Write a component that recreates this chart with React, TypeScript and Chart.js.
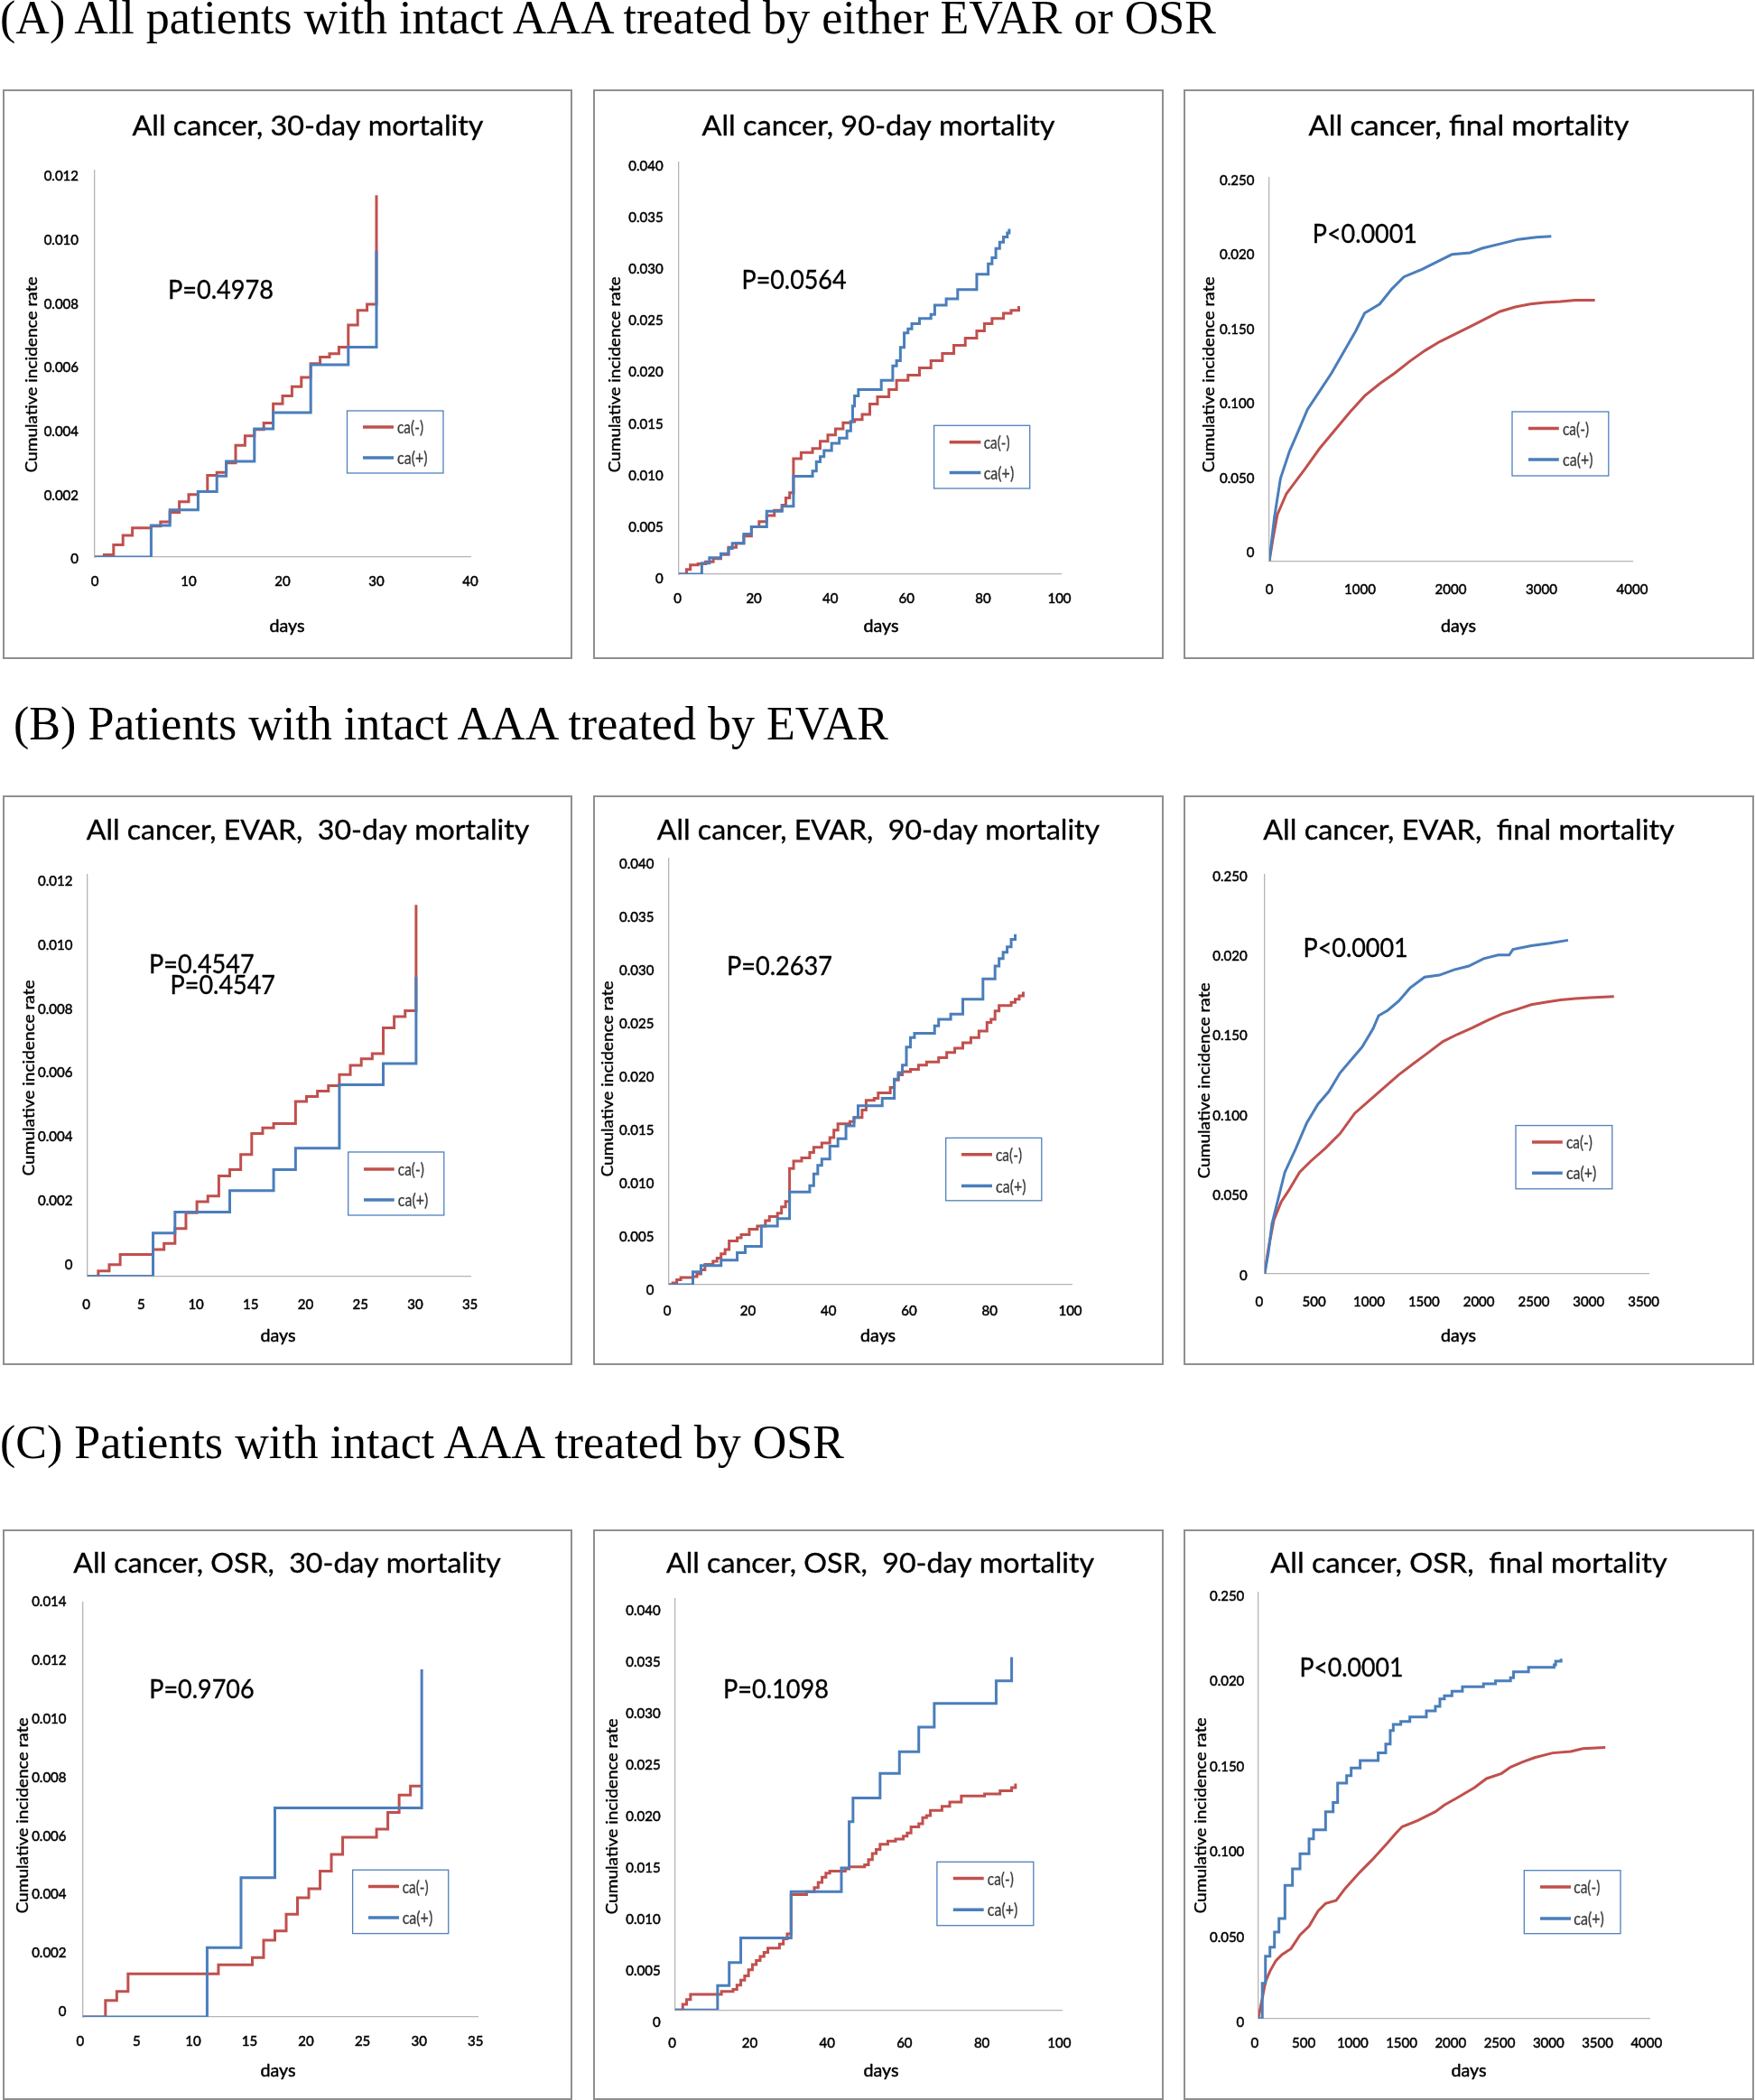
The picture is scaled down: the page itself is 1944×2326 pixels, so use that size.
import React, { useEffect, useLayoutEffect, useRef } from 'react';
import { Chart, registerables } from 'chart.js';

Chart.register(...registerables);
Chart.defaults.font.family = 'Lato';

// ---------------- DATA ----------------
// (A) all patients, 30-day
const all30NegDays = [0,1,2,3,4,6,7,8,9,10,11,12,13,14,15,16,17,18,19,20,21,22,23,24,25,26,27,28,29,30];
const all30NegRate = [0,0.00007,0.00038,0.00068,0.00091,0.00097,0.0011,0.0014,0.00173,0.00196,0.00205,0.00256,0.00265,0.00295,0.0035,0.0038,0.004,0.0042,0.0048,0.00505,0.00534,0.00563,0.00606,0.00627,0.00637,0.00658,0.00727,0.00773,0.00792,0.01134];
const all30PosDays = [0,6,8,11,13,14,17,19,23,27,30];
const all30PosRate = [0,0.00099,0.00148,0.00205,0.00254,0.003,0.00402,0.00453,0.00603,0.00658,0.00959];
// (A) all patients, 90-day
const all90NegDays = [0,2,3,5,7,9,11,13,15,17,19,21,23,25,27,28,29,30,32,35,37,39,41,43,45,46,48,50,52,55,57,60,63,66,69,72,75,78,80,82,85,87,89];
const all90NegRate = [0,0.00046,0.0009,0.001,0.0012,0.0015,0.0019,0.0026,0.003,0.0037,0.0046,0.0051,0.0057,0.0062,0.0067,0.0074,0.0079,0.0112,0.0118,0.0122,0.0129,0.0135,0.0141,0.0147,0.0148,0.015,0.0155,0.0165,0.0172,0.0179,0.0188,0.0193,0.02,0.0207,0.0214,0.0222,0.0229,0.0236,0.0243,0.0248,0.0253,0.0256,0.026];
const all90PosDays = [0,6,8,11,13,14,17,19,23,27,30,35,36,37,38,40,42,44,45,45.5,46,47,53,56,57,58,59,60,61,63,66,67,70,73,78,81,82,83,84,85,86,86.5];
const all90PosRate = [0,0.00107,0.0016,0.002,0.0025,0.003,0.0039,0.0046,0.0061,0.0066,0.0095,0.01,0.0109,0.0114,0.012,0.0127,0.0132,0.0139,0.0148,0.0163,0.0173,0.0179,0.0188,0.0202,0.0207,0.022,0.0234,0.0238,0.0243,0.0248,0.0252,0.0261,0.0267,0.0276,0.0291,0.0301,0.0307,0.0316,0.0322,0.0327,0.0331,0.0335];
// (A) all patients, final
const allFinNegDays = [0,40,89,189,289,388,554,720,886,1052,1217,1383,1549,1715,1881,2046,2212,2378,2544,2710,2876,3042,3207,3373,3589];
const allFinNegRate = [0,0.015,0.0312,0.0453,0.0534,0.0615,0.0756,0.0877,0.0999,0.111,0.1191,0.1262,0.1342,0.1413,0.1474,0.1524,0.1574,0.1625,0.1676,0.1706,0.1726,0.1736,0.1742,0.1752,0.1752];
const allFinPosDays = [0,56,123,222,322,421,554,686,819,952,1051,1217,1350,1483,1682,1881,2013,2212,2345,2544,2743,2942,3108];
const allFinPosRate = [0,0.0292,0.0554,0.0736,0.0877,0.1019,0.114,0.1262,0.1403,0.1544,0.1665,0.1726,0.1827,0.1908,0.1959,0.2019,0.2059,0.207,0.21,0.213,0.216,0.2174,0.218];
// (B) EVAR, 30-day
const evar30NegDays = [0,1,2,3,6,7,8,9,10,11,12,13,14,15,16,17,19,20,21,22,23,24,25,26,27,28,29,30];
const evar30NegRate = [0,0.00016,0.00036,0.00068,0.00083,0.00102,0.00149,0.00198,0.00233,0.0025,0.00313,0.00333,0.0038,0.00446,0.00463,0.00477,0.00546,0.00561,0.00578,0.00595,0.0063,0.00659,0.00679,0.00695,0.00776,0.00811,0.00829,0.0116];
const evar30PosDays = [0,6,8,13,17,19,23,27,30];
const evar30PosRate = [0,0.00135,0.002,0.00267,0.00333,0.004,0.00598,0.00664,0.00935];
// (B) EVAR, 90-day
const evar90NegDays = [0,1,2,3,6,7,8,9,11,12,13,14,15,17,18,20,22,24,25,27,28,29,30,31,33,35,36,38,40,41,42,45,46,48,49,51,52,55,56,57,58,60,62,64,67,69,71,73,75,77,79,80,81,82,85,86,87,88];
const evar90NegRate = [0,0.00017,0.00045,0.00066,0.00076,0.001,0.0014,0.0019,0.0022,0.0025,0.0029,0.0033,0.0041,0.0044,0.0047,0.0052,0.0055,0.006,0.0064,0.0067,0.0073,0.0078,0.0109,0.0116,0.0119,0.0124,0.0129,0.0133,0.0138,0.0145,0.0151,0.0153,0.0157,0.0164,0.0173,0.0175,0.018,0.0185,0.0192,0.0197,0.02,0.0202,0.0206,0.0209,0.0213,0.0218,0.0222,0.0227,0.0232,0.0238,0.0246,0.0249,0.0257,0.0262,0.0265,0.0268,0.0271,0.0275];
const evar90PosDays = [0,6,8,13,17,19,23,27,30,35,36,37,38,40,42,44,46,47,53,56,57,58,59,60,61,66,67,70,73,78,81,82,83,84,85,86];
const evar90PosRate = [0,0.0012,0.0018,0.0023,0.003,0.0036,0.0055,0.0062,0.0087,0.0093,0.0104,0.0112,0.0118,0.013,0.0137,0.0149,0.0157,0.0168,0.0175,0.0193,0.0199,0.0206,0.0223,0.0232,0.0236,0.0243,0.0249,0.0254,0.0268,0.0287,0.0299,0.0306,0.0312,0.0317,0.0324,0.0329];
// (B) EVAR, final
const evarFinNegDays = [0,33,84,151,218,318,419,553,687,820,954,1088,1222,1356,1490,1624,1758,1892,2026,2160,2294,2428,2562,2696,2830,2964,3181];
const evarFinNegRate = [0,0.015,0.0335,0.045,0.0519,0.0635,0.0704,0.0785,0.0877,0.1004,0.1085,0.1166,0.1246,0.1316,0.1385,0.1454,0.15,0.154,0.1586,0.1627,0.1655,0.1685,0.1701,0.1715,0.1724,0.1729,0.1736];
const evarFinPosDays = [0,33,67,117,184,285,385,486,586,687,787,887,988,1038,1122,1222,1323,1457,1591,1725,1859,1993,2127,2227,2261,2428,2595,2763];
const evarFinPosRate = [0,0.0127,0.0312,0.045,0.0635,0.0785,0.0946,0.1062,0.1142,0.1258,0.1339,0.1419,0.1535,0.1616,0.165,0.1708,0.1789,0.1858,0.187,0.1904,0.1927,0.1973,0.1996,0.1996,0.2031,0.2054,0.207,0.2089];
// (C) OSR, 30-day
const osr30NegDays = [0,2,3,4,12,15,16,17,18,19,20,21,22,23,26,27,28,29,30];
const osr30NegRate = [0,0.00056,0.00087,0.00147,0.00178,0.00203,0.00262,0.00294,0.00351,0.00407,0.00438,0.00498,0.00555,0.00614,0.00642,0.00699,0.00758,0.00789,0.00789];
const osr30PosDays = [0,11,14,17,30];
const osr30PosRate = [0,0.00237,0.00476,0.00714,0.01188];
// (C) OSR, 90-day
const osr90NegDays = [0,2,3,4,12,15,16,17,18,19,20,21,22,23,24,27,28,29,30,34,36,37,38,39,40,44,45,49,50,51,52,53,55,57,59,60,61,63,64,65,66,69,71,74,80,84,87,88];
const osr90NegRate = [0,0.00054,0.001,0.0015,0.0018,0.002,0.0024,0.0029,0.0033,0.0039,0.0044,0.0048,0.0052,0.0056,0.006,0.0064,0.0069,0.0074,0.0112,0.0115,0.0119,0.0124,0.0129,0.0133,0.0135,0.0137,0.0139,0.0141,0.0146,0.0152,0.0156,0.0161,0.0164,0.0166,0.0169,0.0172,0.0178,0.0181,0.0187,0.0189,0.0194,0.0198,0.0202,0.0208,0.021,0.0213,0.0216,0.022];
const osr90PosDays = [0,11,14,17,30,43,45,46,53,58,63,67,83,87];
const osr90PosRate = [0,0.00236,0.0046,0.007,0.0115,0.0138,0.0183,0.0206,0.023,0.0251,0.0275,0.0298,0.032,0.0343];
// (C) OSR, final
const osrFinNegDays = [0,41,73,119,180,242,334,426,518,610,687,795,887,1040,1163,1317,1409,1470,1624,1808,1900,2023,2207,2330,2483,2575,2698,2821,3005,3190,3313,3543];
const osrFinNegRate = [0,0.0118,0.0215,0.0277,0.0339,0.0374,0.0409,0.0489,0.0541,0.063,0.0674,0.0692,0.0762,0.0859,0.093,0.1027,0.1088,0.1124,0.1159,0.1212,0.1251,0.1291,0.1353,0.1406,0.1436,0.1473,0.1503,0.1529,0.1556,0.1565,0.1582,0.1588];
const osrFinPosDays = [0,41,73,119,165,211,272,349,426,518,564,687,764,810,902,948,1040,1224,1301,1347,1378,1455,1547,1716,1808,1854,1900,1977,2084,2299,2422,2575,2606,2759,3020,3036,3091];
const osrFinPosRate = [0,0.0206,0.0365,0.0418,0.0506,0.0586,0.078,0.0877,0.0965,0.1053,0.1106,0.1212,0.1265,0.1379,0.1423,0.1468,0.1512,0.1556,0.1608,0.1688,0.1723,0.1741,0.1767,0.1803,0.1829,0.1873,0.1891,0.1918,0.1944,0.1961,0.1979,0.1997,0.2032,0.2058,0.2072,0.2094,0.2108];

// tick labels
const y30Labels = ['0', '0.002', '0.004', '0.006', '0.008', '0.010', '0.012'];
const y30OsrLabels = ['0', '0.002', '0.004', '0.006', '0.008', '0.010', '0.012', '0.014'];
const y90Labels = ['0', '0.005', '0.010', '0.015', '0.020', '0.025', '0.030', '0.035', '0.040'];
const yFinLabels = ['0', '0.050', '0.100', '0.150', '0.020', '0.250'];
const x40Labels = ['0', '10', '20', '30', '40'];
const x35Labels = ['0', '5', '10', '15', '20', '25', '30', '35'];
const x100Labels = ['0', '20', '40', '60', '80', '100'];
const x4000Labels = ['0', '1000', '2000', '3000', '4000'];
const x3500Labels = ['0', '500', '1000', '1500', '2000', '2500', '3000', '3500'];
const x4000bLabels = ['0', '500', '1000', '1500', '2000', '2500', '3000', '3500', '4000'];

const seriesNames = ['ca(-)', 'ca(+)'];
const Y_TITLE = 'Cumulative incidence rate';
const X_TITLE = 'days';

const headings = [
  { text: '(A) All patients with intact AAA treated by either EVAR or OSR', x: 0, base: 37, w: 1347 },
  { text: '(B) Patients with intact AAA treated by EVAR', x: 15, base: 819, w: 969 },
  { text: '(C) Patients with intact AAA treated by OSR', x: 0, base: 1615, w: 935 },
];

// ---------------- STYLE ----------------
const RED = '#C0504D';
const BLUE = '#4A7EBB';
const AXIS = '#b5b5b5';

const pts = (xs: number[], ys: number[]) =>
  xs.slice(0, Math.min(xs.length, ys.length)).map((x, i) => ({ x, y: ys[i] }));

const PANELS: any[] = [
  { left: 3, top: 99, w: 631, h: 631, title: 'All cancer, 30-day mortality', tcx: 338, tb: 51, tw: 389,
    ps: [{ t: 'P=0.4978', x: 183, b: 232, w: 117 }],
    lg: { x1: 381.5, y1: 356, x2: 488, y2: 425, ry: 374, by: 408, lx1: 399, lx2: 433, tx: 437 },
    L: 102, R: 518, T: 90, B: 518, xmax: 40, xstep: 10, xl: x40Labels, ymax: 0.01211, ystep: 0.002, yl: y30Labels,
    yOff: 2.5, xOff: 0, yPad: 18, xPad: 18, ytx: 32, yty: 316, dx: 315, db: 601,
    neg: pts(all30NegDays, all30NegRate), pos: pts(all30PosDays, all30PosRate), negStep: true, posStep: true },
  { left: 657, top: 99, w: 632, h: 631, title: 'All cancer, 90-day mortality', tcx: 316, tb: 51, tw: 391,
    ps: [{ t: 'P=0.0564', x: 164.5, b: 220.5, w: 116 }],
    lg: { x1: 377.6, y1: 372.3, x2: 483.7, y2: 442, ry: 390.7, by: 424.6, lx1: 394.7, lx2: 429.4, tx: 432.7 },
    L: 95, R: 518, T: 80.2, B: 537, xmax: 100, xstep: 20, xl: x100Labels, ymax: 0.04, ystep: 0.005, yl: y90Labels,
    yOff: 5, xOff: -1.5, yPad: 17.4, xPad: 18, ytx: 24.5, yty: 316, dx: 319, db: 601,
    neg: pts(all90NegDays, all90NegRate), pos: pts(all90PosDays, all90PosRate), negStep: true, posStep: true },
  { left: 1311, top: 99, w: 632, h: 631, title: 'All cancer, final mortality', tcx: 316, tb: 51, tw: 355,
    ps: [{ t: 'P<0.0001', x: 142.7, b: 169.5, w: 116.3 }],
    lg: { x1: 364, y1: 357, x2: 470.8, y2: 428, ry: 375.6, by: 410, lx1: 382, lx2: 415.8, tx: 420 },
    L: 95, R: 497, T: 98, B: 522.5, xmax: 4000, xstep: 1000, xl: x4000Labels, ymax: 0.2573, ystep: 0.05, yl: yFinLabels,
    yOff: -9, xOff: 0, yPad: 16.6, xPad: 23, ytx: 27.8, yty: 316, dx: 304.5, db: 601,
    neg: pts(allFinNegDays, allFinNegRate), pos: pts(allFinPosDays, allFinPosRate), negStep: false, posStep: false },
  { left: 3, top: 881, w: 631, h: 631, title: 'All cancer, EVAR,  30-day mortality', tcx: 338, tb: 49, tw: 490.5,
    ps: [{ t: 'P=0.4547', x: 162, b: 197, w: 116.6 }, { t: 'P=0.4547', x: 185.6, b: 220, w: 116.4 }],
    lg: { x1: 382.7, y1: 395, x2: 488.8, y2: 465, ry: 414, by: 448, lx1: 400, lx2: 433.7, tx: 437.8 },
    L: 93.7, R: 518.6, T: 87.6, B: 532.5, xmax: 35, xstep: 5, xl: x35Labels, ymax: 0.01255, ystep: 0.002, yl: y30Labels,
    yOff: -12.2, xOff: -1, yPad: 16.3, xPad: 22.8, ytx: 29.6, yty: 313, dx: 305, db: 605,
    neg: pts(evar30NegDays, evar30NegRate), pos: pts(evar30PosDays, evar30PosRate), negStep: true, posStep: true },
  { left: 657, top: 881, w: 632, h: 631, title: 'All cancer, EVAR,  90-day mortality', tcx: 316, tb: 49, tw: 490.3,
    ps: [{ t: 'P=0.2637', x: 148, b: 199, w: 117 }],
    lg: { x1: 390.7, y1: 379.4, x2: 496.8, y2: 448.8, ry: 397.8, by: 432.5, lx1: 408, lx2: 442, tx: 446 },
    L: 83.7, R: 530, T: 69.9, B: 541.9, xmax: 100, xstep: 20, xl: x100Labels, ymax: 0.04, ystep: 0.005, yl: y90Labels,
    yOff: 6, xOff: -1.5, yPad: 16.3, xPad: 20, ytx: 16.4, yty: 314, dx: 315.6, db: 605,
    neg: pts(evar90NegDays, evar90NegRate), pos: pts(evar90PosDays, evar90PosRate), negStep: true, posStep: true },
  { left: 1311, top: 881, w: 632, h: 631, title: 'All cancer, EVAR,  final mortality', tcx: 316, tb: 49, tw: 455.5,
    ps: [{ t: 'P<0.0001', x: 132.5, b: 178.6, w: 116.2 }],
    lg: { x1: 368, y1: 365.6, x2: 474.8, y2: 435.8, ry: 383.9, by: 418.2, lx1: 386, lx2: 419.8, tx: 423.9 },
    L: 89.8, R: 515.6, T: 87.7, B: 529.7, xmax: 3500, xstep: 500, xl: x3500Labels, ymax: 0.25, ystep: 0.05, yl: yFinLabels,
    yOff: 2, xOff: -6, yPad: 19.2, xPad: 22.8, ytx: 23.3, yty: 316, dx: 304.5, db: 605,
    neg: pts(evarFinNegDays, evarFinNegRate), pos: pts(evarFinPosDays, evarFinPosRate), negStep: false, posStep: false },
  { left: 3, top: 1694, w: 631, h: 632, title: 'All cancer, OSR,  30-day mortality', tcx: 315, tb: 47.7, tw: 473.4,
    ps: [{ t: 'P=0.9706', x: 162.3, b: 187.2, w: 116.3 }],
    lg: { x1: 387.6, y1: 377.2, x2: 493.7, y2: 447.6, ry: 395.6, by: 430.1, lx1: 405, lx2: 439, tx: 442.7 },
    L: 88.8, R: 526.7, T: 80.7, B: 540, xmax: 35, xstep: 5, xl: x35Labels, ymax: 0.01417, ystep: 0.002, yl: y30OsrLabels,
    yOff: -5.7, xOff: -3, yPad: 18.3, xPad: 17.8, ytx: 22.2, yty: 317, dx: 305, db: 605.5,
    neg: pts(osr30NegDays, osr30NegRate), pos: pts(osr30PosDays, osr30PosRate), negStep: true, posStep: true },
  { left: 657, top: 1694, w: 632, h: 632, title: 'All cancer, OSR,  90-day mortality', tcx: 318, tb: 47.7, tw: 474,
    ps: [{ t: 'P=0.1098', x: 144, b: 187.2, w: 117 }],
    lg: { x1: 380.9, y1: 368.3, x2: 487.8, y2: 438.7, ry: 386.6, by: 421.2, lx1: 398.8, lx2: 432.7, tx: 436.8 },
    L: 90.7, R: 519.3, T: 76.5, B: 532.2, xmax: 100, xstep: 20, xl: x100Labels, ymax: 0.04, ystep: 0.005, yl: y90Labels,
    yOff: 13.8, xOff: -3, yPad: 16, xPad: 27.8, ytx: 21.3, yty: 318, dx: 319, db: 605.5,
    neg: pts(osr90NegDays, osr90NegRate), pos: pts(osr90PosDays, osr90PosRate), negStep: true, posStep: true },
  { left: 1311, top: 1694, w: 632, h: 632, title: 'All cancer, OSR,  final mortality', tcx: 316, tb: 47.7, tw: 439.3,
    ps: [{ t: 'P<0.0001', x: 128.4, b: 162.5, w: 115 }],
    lg: { x1: 377.3, y1: 377.7, x2: 484, y2: 447.7, ry: 396, by: 431, lx1: 395, lx2: 429, tx: 432.3 },
    L: 82.8, R: 516.8, T: 69.2, B: 541.7, xmax: 4000, xstep: 500, xl: x4000bLabels, ymax: 0.25, ystep: 0.05, yl: yFinLabels,
    yOff: 4.8, xOff: -4, yPad: 15.5, xPad: 18.2, ytx: 19.3, yty: 317, dx: 316, db: 605.5,
    neg: pts(osrFinNegDays, osrFinNegRate), pos: pts(osrFinPosDays, osrFinPosRate), negStep: false, posStep: true },
];

function fitText(ctx: CanvasRenderingContext2D, text: string, x: number, y: number, font: string, color: string,
  w: number, align: 'left' | 'center', baseline: CanvasTextBaseline = 'alphabetic', rotate = false, stroke = 0) {
  ctx.save();
  ctx.font = font;
  ctx.fillStyle = color;
  ctx.strokeStyle = color;
  ctx.textAlign = 'left';
  ctx.textBaseline = baseline;
  const nat = ctx.measureText(text).width || 1;
  const s = w / nat;
  ctx.translate(x, y);
  if (rotate) ctx.rotate(-Math.PI / 2);
  ctx.scale(s, 1);
  const tx = align === 'center' ? -nat / 2 : 0;
  ctx.fillText(text, tx, 0);
  if (stroke > 0) {
    ctx.lineWidth = stroke;
    ctx.lineJoin = 'round';
    ctx.strokeText(text, tx, 0);
  }
  ctx.restore();
}

function makeDecor(p: any) {
  return {
    id: 'decor',
    beforeDraw(chart: any) {
      const ctx = chart.ctx as CanvasRenderingContext2D;
      ctx.save();
      ctx.fillStyle = '#ffffff';
      ctx.fillRect(0, 0, chart.width, chart.height);
      ctx.strokeStyle = '#8f8f8f';
      ctx.lineWidth = 2;
      ctx.strokeRect(1, 1, chart.width - 2, chart.height - 2);
      ctx.restore();
    },
    afterDraw(chart: any) {
      const ctx = chart.ctx as CanvasRenderingContext2D;
      fitText(ctx, p.title, p.tcx, p.tb, '30px Lato', '#000', p.tw, 'center', 'alphabetic', false, 0.35);
      p.ps.forEach((t: any) => fitText(ctx, t.t, t.x, t.b, '28px Lato', '#000', t.w, 'left', 'alphabetic', false, 0.35));
      fitText(ctx, Y_TITLE, p.ytx, p.yty, '18px Lato', '#000', 217, 'center', 'middle', true, 0.4);
      fitText(ctx, X_TITLE, p.dx, p.db, '20px Lato', '#000', 39, 'center', 'alphabetic', false, 0.5);
      const lg = p.lg;
      ctx.save();
      ctx.fillStyle = '#fff';
      ctx.fillRect(lg.x1, lg.y1, lg.x2 - lg.x1, lg.y2 - lg.y1);
      ctx.strokeStyle = '#4F81BD';
      ctx.lineWidth = 1.3;
      ctx.strokeRect(lg.x1, lg.y1, lg.x2 - lg.x1, lg.y2 - lg.y1);
      const ds = chart.data.datasets;
      const rows = [lg.ry, lg.by];
      rows.forEach((yy: number, i: number) => {
        ctx.strokeStyle = ds[i].borderColor;
        ctx.lineWidth = 3.5;
        ctx.beginPath();
        ctx.moveTo(lg.lx1, yy);
        ctx.lineTo(lg.lx2, yy);
        ctx.stroke();
      });
      ctx.restore();
      rows.forEach((yy: number, i: number) => {
        fitText(ctx, ds[i].label, lg.tx, yy + 1, '19px Lato', '#3a3a3a', i === 0 ? 29 : 33.5, 'left', 'middle', false, 0.3);
      });
    },
  };
}

function buildOptions(p: any) {
  const tickFont = { family: 'Lato', size: 15 };
  return {
    responsive: false,
    animation: false,
    devicePixelRatio: 1,
    events: [],
    layout: { padding: { left: 0, top: p.T, right: p.w - p.R, bottom: 0 } },
    plugins: { legend: { display: false }, tooltip: { enabled: false }, title: { display: false } },
    elements: { point: { radius: 0 }, line: { borderWidth: 3, tension: 0 } },
    scales: {
      x: {
        type: 'linear', min: 0, max: p.xmax, bounds: 'data',
        grid: { display: false, drawTicks: false },
        border: { display: true, color: AXIS, width: 1.3 },
        ticks: {
          stepSize: p.xstep, includeBounds: false, autoSkip: false, maxRotation: 0, minRotation: 0,
          padding: p.xPad, labelOffset: p.xOff, font: tickFont, color: '#000',
          textStrokeColor: '#000', textStrokeWidth: 0.5,
          callback: (v: number) => { const k = Math.round(v / p.xstep); return p.xl[k] ?? ''; },
        },
        afterFit: (s: any) => { s.height = p.h - p.B; },
      },
      y: {
        type: 'linear', min: 0, max: p.ymax, bounds: 'data',
        grid: { display: false, drawTicks: false },
        border: { display: true, color: AXIS, width: 1.3 },
        ticks: {
          stepSize: p.ystep, includeBounds: false, autoSkip: false,
          padding: p.yPad, labelOffset: p.yOff, font: tickFont, color: '#000',
          textStrokeColor: '#000', textStrokeWidth: 0.5,
          callback: (v: number) => { const k = Math.round(v / p.ystep); return p.yl[k] ?? ''; },
        },
        afterFit: (s: any) => { s.width = p.L; },
      },
    },
  };
}

function Panel({ p }: { p: any }) {
  const ref = useRef<HTMLCanvasElement>(null);
  useEffect(() => {
    const c = ref.current;
    if (!c) return;
    const chart = new Chart(c, {
      type: 'line',
      data: {
        datasets: [
          { label: seriesNames[0], data: p.neg, borderColor: RED, backgroundColor: RED, borderWidth: 3,
            stepped: p.negStep ? 'before' : false, pointRadius: 0, fill: false, order: 1 },
          { label: seriesNames[1], data: p.pos, borderColor: BLUE, backgroundColor: BLUE, borderWidth: 3,
            stepped: p.posStep ? 'before' : false, pointRadius: 0, fill: false, order: 0 },
        ],
      },
      options: buildOptions(p) as any,
      plugins: [makeDecor(p)],
    } as any);
    return () => chart.destroy();
  }, [p]);
  return (
    <canvas ref={ref} width={p.w} height={p.h}
      style={{ position: 'absolute', left: p.left, top: p.top, width: p.w, height: p.h }} />
  );
}

function Heading({ h }: { h: any }) {
  const ref = useRef<HTMLSpanElement>(null);
  const fs = 53;
  useLayoutEffect(() => {
    const el = ref.current;
    if (!el) return;
    el.style.transform = 'none';
    const w = el.getBoundingClientRect().width;
    if (w > 0) el.style.transform = `scaleX(${h.w / w})`;
  }, [h]);
  return (
    <span ref={ref} style={{
      position: 'absolute', left: h.x, top: h.base - 44.4, fontFamily: '"Liberation Serif", "Times New Roman", serif',
      fontSize: fs, lineHeight: `${fs}px`, whiteSpace: 'nowrap', transformOrigin: '0 0', color: '#000',
    }}>{h.text}</span>
  );
}

export default function App() {
  useEffect(() => {
    document.body.style.margin = '0';
    document.body.style.background = '#fff';
  }, []);
  return (
    <div style={{ position: 'absolute', left: 0, top: 0, width: 1944, height: 2326, background: '#fff', overflow: 'hidden' }}>
      {headings.map((h, i) => <Heading key={i} h={h} />)}
      {PANELS.map((p, i) => <Panel key={i} p={p} />)}
    </div>
  );
}
